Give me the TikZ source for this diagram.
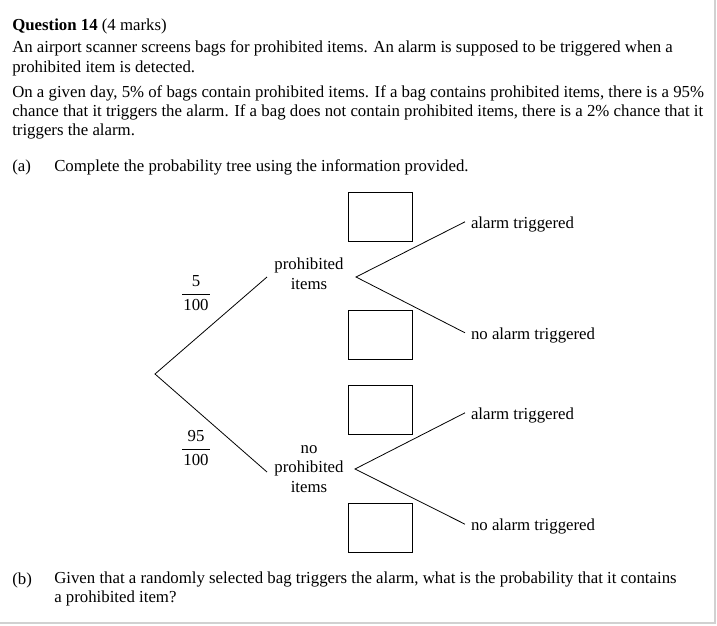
\documentclass[tikz,border=0pt]{standalone}
\usepackage{fontspec}
\setmainfont{Liberation Serif}

\tikzset{
  txt/.style={font=\fontsize{12.6pt}{14.5pt}\selectfont, inner sep=0pt, align=left},
  blank/.style={draw, line width=1.1pt, minimum width=48pt, minimum height=36.8pt, inner sep=0pt},
  outcome/.style={txt, anchor=base west, text height=9.75pt, text depth=0pt, outer sep=4.5pt},
  branch/.style={line width=0.6pt},
  frac/.style={txt, align=center}
}
\newcommand{\stackfrac}[2]{\renewcommand{\arraystretch}{1.2}\setlength{\arrayrulewidth}{0.6pt}%
  \begin{tabular}{@{\hspace{1pt}}c@{\hspace{1pt}}}#1\\\hline #2\end{tabular}}

\begin{document}
\begin{tikzpicture}[x=0.75pt,y=-0.75pt]
  \useasboundingbox (0,0) rectangle (717,625);
  \fill[white] (0,0) rectangle (717,625);
  \draw[black!18, line width=1.4pt] (715,0) -- (715,623) -- (0,623);

  % question text (multi-line nodes sit on their last baseline)
  \node[txt, anchor=base west] (head) at (12,30.5) {\textbf{Question 14} (4 marks)};
  \node[txt, anchor=base west] (intro) at (12,72) {An airport scanner screens bags for prohibited items. An alarm is supposed to be triggered when a\\prohibited item is detected.};
  \node[txt, anchor=base west] (facts) at (12,135.7) {On a given day, 5\% of bags contain prohibited items. If a bag contains prohibited items, there is a 95\%\\chance that it triggers the alarm. If a bag does not contain prohibited items, there is a 2\% chance that it\\triggers the alarm.};
  \node[txt, anchor=base west] (partA) at (12,171.7) {(a)};
  \node[txt, anchor=base west] (taskA) at (54,171.7) {Complete the probability tree using the information provided.};
  \node[txt, anchor=base west] (partB) at (12,584) {(b)};
  \node[txt, anchor=base west] (taskB) at (54,602.7) {Given that a randomly selected bag triggers the alarm, what is the probability that it contains\\a prohibited item?};

  % tree
  \coordinate (root) at (155,374);
  \coordinate (pIn) at (267,277);
  \coordinate (pOut) at (356,277);
  \coordinate (nIn) at (267,472);
  \coordinate (nOut) at (355,469);

  \node[txt, align=center, anchor=base] (prohib) at (309,289.3) {prohibited\\items};
  \node[txt, align=center, anchor=base] (noProhib) at (309,492.3) {no\\prohibited\\items};
  \node[frac] (pFrac) at (196,294.3) {\stackfrac{5}{100}};
  \node[frac] (nFrac) at (196,449.3) {\stackfrac{95}{100}};

  \node[outcome] (pAlarm) at (465,228.3) {alarm triggered};
  \node[outcome] (pQuiet) at (465,339.3) {no alarm triggered};
  \node[outcome] (nAlarm) at (465,419.3) {alarm triggered};
  \node[outcome] (nQuiet) at (465,530.7) {no alarm triggered};

  \node[blank] (box1) at (380.5,217) {};
  \node[blank] (box2) at (380.5,335) {};
  \node[blank] (box3) at (380.5,410) {};
  \node[blank] (box4) at (380.5,528) {};

  \draw[branch] (pIn) -- (root) -- (nIn);
  \draw[branch] (pAlarm.west) -- (pOut) -- (pQuiet.west);
  \draw[branch] (nAlarm.west) -- (nOut) -- (nQuiet.west);
\end{tikzpicture}
\end{document}
